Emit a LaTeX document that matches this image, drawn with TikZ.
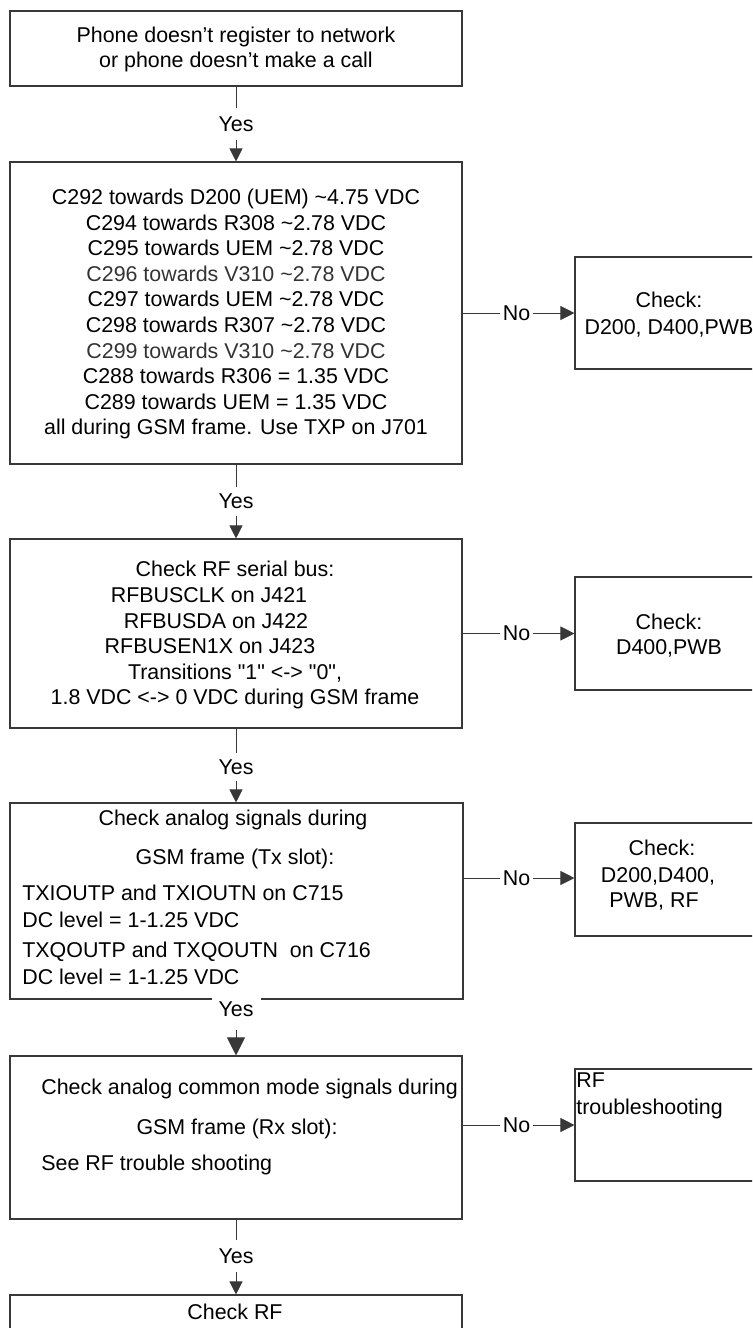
\documentclass[tikz,border=0pt]{standalone}
\usepackage{fontspec}
\newfontfamily\arialf{Liberation Sans}
\usetikzlibrary{arrows.meta}
\begin{document}
\begin{tikzpicture}[x=0.5pt,y=-0.5pt,
  font=\arialf\fontsize{10.7}{12.8}\selectfont,
  box/.style={draw=black!78,line width=0.55pt,rectangle,inner sep=0pt},
  txt/.style={inner sep=0pt,anchor=base},
  txtl/.style={inner sep=0pt,anchor=base west},
  lbl/.style={inner sep=0pt},
  nolbl/.style={inner xsep=1.2pt,inner ysep=0pt},
  conn/.style={draw=black!78,line width=0.5pt},
  arr/.style={conn,-{Triangle[length=6.5pt,width=6.5pt]}},
  arrno/.style={conn,-{Triangle[length=7pt,width=7pt]}},
  arrbig/.style={conn,-{Triangle[length=9pt,width=9pt]}},
  grey/.style={text=black!80}]
\useasboundingbox (0,0) rectangle (752,1328);
\clip (0,0) rectangle (752,1328);
% main boxes
\node[box,minimum width=226pt,minimum height=37.5pt] (b1) at (236,48.5) {};
\node[box,minimum width=226pt,minimum height=151pt] (b2) at (236,313) {};
\node[box,minimum width=226pt,minimum height=94.5pt] (b3) at (236,633.5) {};
\node[box,minimum width=226.5pt,minimum height=98pt] (b4) at (236.5,901) {};
\node[box,minimum width=226pt,minimum height=81.5pt] (b5) at (236,1137.5) {};
\node[box,minimum width=226pt,minimum height=32.5pt] (b6) at (236,1327.5) {};
% right boxes
\node[box,minimum width=93.5pt,minimum height=56pt] (r1) at (668.5,313) {};
\node[box,minimum width=93.5pt,minimum height=56.5pt] (r2) at (668.5,633.5) {};
\node[box,minimum width=93.5pt,minimum height=56.5pt] (r3) at (668.5,879.5) {};
\node[box,minimum width=93.5pt,minimum height=56pt] (r4) at (668.5,1125) {};
% texts box 1
\node[txt] (t1a) at (236,42.7) {Phone doesn’t register to network};
\node[txt] (t1b) at (236,67.7) {or phone doesn’t make a call};
% texts box 2
\node[txt] (t2a) at (236,204.7) {C292 towards D200 (UEM) \textasciitilde4.75 VDC};
\node[txt] (t2b) at (236,230.3) {C294 towards R308 \textasciitilde2.78 VDC};
\node[txt] (t2c) at (236,255.8) {C295 towards UEM \textasciitilde2.78 VDC};
\node[txt,grey] (t2d) at (236,281.4) {C296 towards V310 \textasciitilde2.78 VDC};
\node[txt] (t2e) at (236,306.9) {C297 towards UEM \textasciitilde2.78 VDC};
\node[txt] (t2f) at (236,332.5) {C298 towards R307 \textasciitilde2.78 VDC};
\node[txt,grey] (t2g) at (236,358.0) {C299 towards V310 \textasciitilde2.78 VDC};
\node[txt] (t2h) at (236,383.6) {C288 towards R306 = 1.35 VDC};
\node[txt] (t2i) at (236,409.2) {C289 towards UEM = 1.35 VDC};
\node[txt] (t2j) at (236,434.7) {all during GSM frame. Use TXP on J701};
% texts box 3
\node[txt] (t3a) at (235,576.7) {Check RF serial bus:};
\node[txt] (t3b) at (209,602.7) {RFBUSCLK on J421};
\node[txt] (t3c) at (216,628.7) {RFBUSDA on J422};
\node[txt] (t3d) at (210,653.7) {RFBUSEN1X on J423};
\node[txt] (t3e) at (235,679.7) {Transitions "1" <-> "0",};
\node[txt] (t3f) at (235,704.7) {1.8 VDC <-> 0 VDC during GSM frame};
% texts box 4
\node[txt] (t4a) at (233,825.7) {Check analog signals during};
\node[txt] (t4b) at (235,864.7) {GSM frame (Tx slot):};
\node[txtl] (t4c) at (22,900.7) {TXIOUTP and TXIOUTN on C715};
\node[txtl] (t4d) at (22,927.7) {DC level = 1-1.25 VDC};
\node[txtl] (t4e) at (22,957.7) {TXQOUTP and TXQOUTN\ \ on C716};
\node[txtl] (t4f) at (22,984.7) {DC level = 1-1.25 VDC};
% texts box 5
\node[txtl] (t5a) at (41,1094.7) {Check analog common mode signals during};
\node[txt] (t5b) at (237,1134.7) {GSM frame (Rx slot):};
\node[txtl] (t5c) at (41,1170.7) {See RF trouble shooting};
% text box 6
\node[txt] (t6a) at (235,1319.7) {Check RF};
% right texts
\node[txt] (u1a) at (669,307.7) {Check:};
\node[txt] (u1b) at (669,334.7) {D200, D400,PWB};
\node[txt] (u2a) at (669,629.7) {Check:};
\node[txt] (u2b) at (669,654.7) {D400,PWB};
\node[txt] (u3a) at (662,855.7) {Check:};
\node[txt] (u3b) at (658,882.7) {D200,D400,};
\node[txt] (u3c) at (654,907.7) {PWB, RF};
\node[txtl] (u4a) at (576,1087.7) {RF};
\node[txtl] (u4b) at (576,1114.7) {troubleshooting};
% Yes connectors
\node[lbl,minimum height=16pt] (y1) at (236,124) {Yes};
\draw[conn] (b1.south) -- (y1.north);
\draw[arr] (y1.south) -- (b2.north);
\node[lbl,minimum height=14.5pt] (y2) at (236,501.5) {Yes};
\draw[conn] (b2.south) -- (y2.north);
\draw[arr] (y2.south) -- (b3.north);
\node[lbl,minimum height=14pt] (y3) at (236,767) {Yes};
\draw[conn] (b3.south) -- (y3.north);
\draw[arr] (y3.south) -- (y3.south |- b4.north);
\node[inner sep=0pt,anchor=base,fill=white,text height=10.85pt,text depth=6.65pt,minimum width=24.5pt] (y4) at (236,1016.7) {Yes};
\draw[arrbig] (y4.south) -- (y4.south |- b5.north);
\node[lbl,minimum height=16pt] (y5) at (236,1256) {Yes};
\draw[conn] (b5.south) -- (y5.north);
\draw[arr] (y5.south) -- (b6.north);
% No connectors
\node[nolbl] (n1) at (516.5,313) {No};
\draw[conn] (b2.east) -- (n1.west);
\draw[arrno] (n1.east) -- (n1.east -| r1.west);
\node[nolbl] (n2) at (516.5,633.5) {No};
\draw[conn] (b3.east) -- (n2.west);
\draw[arrno] (n2.east) -- (n2.east -| r2.west);
\node[nolbl] (n3) at (516.5,878) {No};
\draw[conn] ([yshift=11.5pt]b4.east) -- (n3.west);
\draw[arrno] (n3.east) -- (n3.east -| r3.west);
\node[nolbl] (n4) at (516.5,1125) {No};
\draw[conn] ([yshift=6.25pt]b5.east) -- (n4.west);
\draw[arrno] (n4.east) -- (n4.east -| r4.west);
\end{tikzpicture}
\end{document}
